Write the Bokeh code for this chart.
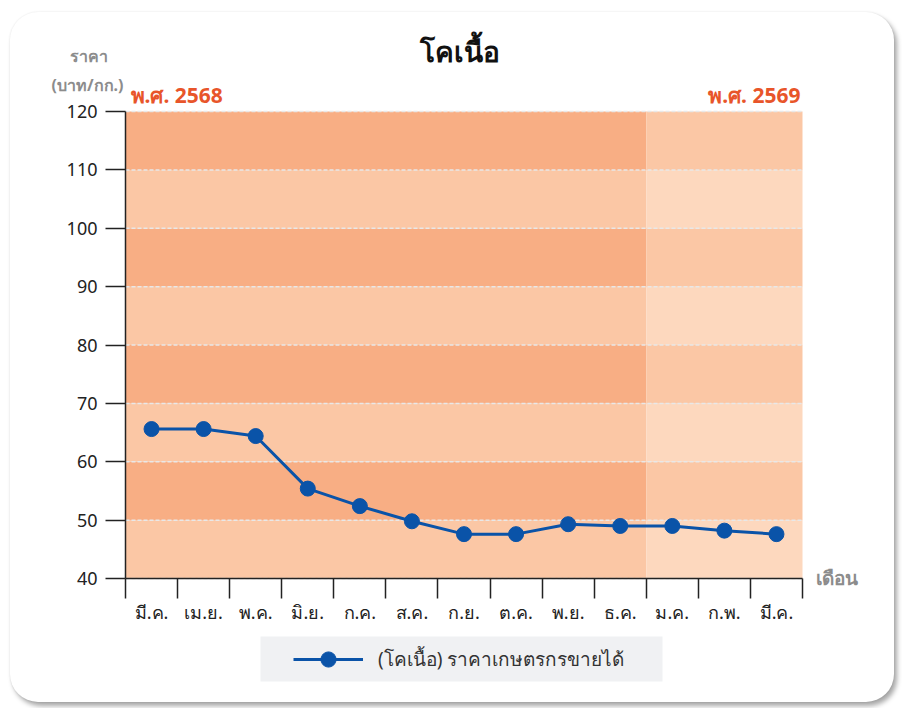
from bokeh.plotting import figure
from bokeh.models import FixedTicker, Label, Legend, LegendItem, Range1d
from bokeh.embed import file_html
from bokeh.resources import INLINE

# ---------------- data ----------------
months = ["มี.ค.", "เม.ย.", "พ.ค.", "มิ.ย.", "ก.ค.", "ส.ค.", "ก.ย.",
          "ต.ค.", "พ.ย.", "ธ.ค.", "ม.ค.", "ก.พ.", "มี.ค."]
prices = [65.6, 65.6, 64.4, 55.4, 52.4, 49.8, 47.6, 47.6, 49.3, 49.0, 49.0, 48.2, 47.6]
year_labels = ["พ.ศ. 2568", "พ.ศ. 2569"]
year_months = [10, 3]
y_ticks = [40, 50, 60, 70, 80, 90, 100, 110, 120]
title_text = "โคเนื้อ"
y_title = ["ราคา", "(บาท/กก.)"]
x_title = "เดือน"
series_name = "(โคเนื้อ) ราคาเกษตรกรขายได้"

FONT = "Noto Sans"
LINE_COLOR = "#0a53a8"

# ---------------- layout (page pixels) ----------------
OX, OY = 10, 12            # card offset on the page
W, H = 884, 690            # card size
F_L, F_R, F_T, F_B = 125, 802, 111, 578   # plot area on the page
n = len(months)
x_lo, x_hi = -0.5, n - 0.5
y_lo, y_hi = y_ticks[0], y_ticks[-1]
kx = (F_R - F_L) / (x_hi - x_lo)
ky = (F_B - F_T) / (y_hi - y_lo)


def dx(px):
    return x_lo + (px - F_L) / kx


def dy(py):
    return y_lo + (F_B - py) / ky


p = figure(width=W, height=H, output_backend="svg", toolbar_location=None,
           x_range=Range1d(dx(OX), dx(OX + W)),
           y_range=Range1d(dy(OY + H), dy(OY)))
p.min_border = 0
p.border_fill_alpha = 0
p.background_fill_alpha = 0
p.outline_line_color = None
p.styles = {"margin-left": f"{OX}px", "margin-top": f"{OY}px",
            "border-radius": "28px", "background-color": "white",
            "box-shadow": "0 0 2px rgba(0,0,0,0.10), 3px 4px 5px rgba(0,0,0,0.35)"}

# ---------------- background bands ----------------
band_colors = [("#FBC7A5", "#F8AE84"), ("#FDD8BE", "#FBC7A5")]
bl, br, bb, bt, bc = [], [], [], [], []
start = x_lo
for yi, cnt in enumerate(year_months):
    end = start + cnt
    for k in range(len(y_ticks) - 1):
        bl.append(start); br.append(end)
        bb.append(y_ticks[k]); bt.append(y_ticks[k + 1])
        bc.append(band_colors[yi][k % 2])
    start = end
p.quad(left=bl, right=br, bottom=bb, top=bt, fill_color=bc,
       line_color=None, level="image")

# dashed horizontal grid lines
p.segment(x0=x_lo, y0=y_ticks, x1=x_hi, y1=y_ticks, line_color="#e8e8e8",
          line_dash="4 2", line_width=1.5, level="underlay")

# ---------------- axes ----------------
p.xgrid.visible = False
p.ygrid.visible = False
x = list(range(n))
p.xaxis.fixed_location = y_lo
p.xaxis.bounds = (x_lo, x_hi)
p.xaxis.ticker = FixedTicker(ticks=x, minor_ticks=[i - 0.5 for i in range(n + 1)])
p.xaxis.major_label_overrides = {i: m for i, m in enumerate(months)}
p.xaxis.major_tick_line_color = None
p.xaxis.major_tick_out = 0
p.xaxis.major_tick_in = 0
p.xaxis.minor_tick_out = 20
p.xaxis.minor_tick_in = 0
p.xaxis.minor_tick_line_color = "#222222"
p.xaxis.minor_tick_line_width = 1.5
p.xaxis.major_label_standoff = 1

p.yaxis.fixed_location = x_lo
p.yaxis.bounds = (y_lo, y_hi)
p.yaxis.ticker = FixedTicker(ticks=y_ticks, minor_ticks=[])
p.yaxis.major_tick_out = 20
p.yaxis.major_tick_in = 0
p.yaxis.major_tick_line_color = "#222222"
p.yaxis.major_tick_line_width = 1.5
p.yaxis.major_label_standoff = 8

for ax in (p.xaxis, p.yaxis):
    ax.axis_line_color = "#222222"
    ax.axis_line_width = 1.5
    ax.major_label_text_font = FONT
    ax.major_label_text_font_size = "18px"
    ax.major_label_text_color = "#222222"

# ---------------- series ----------------
ln = p.line(x, prices, line_width=3, line_color=LINE_COLOR)
sc = p.scatter(x, prices, size=15, fill_color=LINE_COLOR, line_color=LINE_COLOR)

# ---------------- texts ----------------
def add_label(text, px, py, size, color, align="center", baseline="middle", bold=True):
    p.add_layout(Label(x=dx(px), y=dy(py), text=text, text_font=FONT,
                       text_font_size=size, text_font_style="bold" if bold else "normal",
                       text_color=color, text_align=align, text_baseline=baseline))


add_label(title_text, 459, 50, "28px", "#111111")
add_label(y_title[0], 88, 55, "16px", "#8c8c8c")
add_label(y_title[1], 87, 84, "16px", "#8c8c8c")
add_label(year_labels[0], 130, 94, "21px", "#E8552A", align="left")
add_label(year_labels[1], 800, 94, "21px", "#E8552A", align="right")
add_label(x_title, 815, 577, "19px", "#8c8c8c", align="left")

# ---------------- legend ----------------
p.quad(left=dx(260), right=dx(662), top=dy(636), bottom=dy(681),
       fill_color="#F0F1F3", line_color=None, level="underlay")
legend = Legend(items=[LegendItem(label=series_name, renderers=[ln, sc])],
                location=(293 - OX, (OY + H) - 677.5), glyph_width=70, glyph_height=38,
                label_standoff=15, padding=0, margin=0,
                background_fill_alpha=0, border_line_alpha=0,
                label_text_font=FONT, label_text_font_size="19px",
                label_text_color="#333333")
p.add_layout(legend)

open("out.html", "w").write(file_html(p, INLINE))
